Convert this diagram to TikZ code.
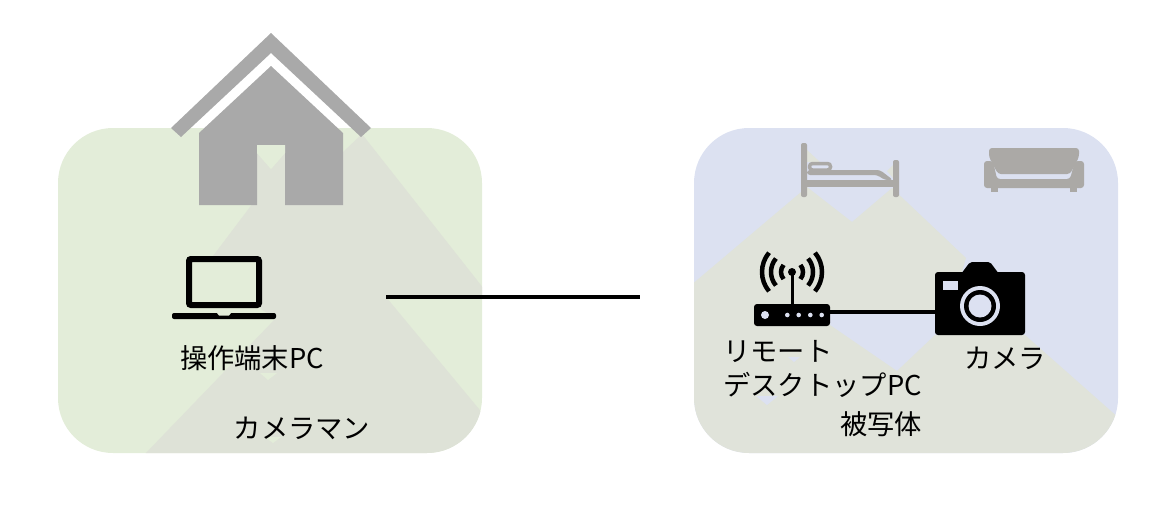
\documentclass[tikz,border=0pt]{standalone}
\usepackage{fontspec}
\newfontfamily\cjk{Noto Sans CJK JP}
\definecolor{greenpanel}{HTML}{E3EDD9}
\definecolor{bluepanel}{HTML}{DCE1F1}
\definecolor{greenhatch}{HTML}{DEE2D7}
\definecolor{bluehatch}{HTML}{E0E3DA}
\definecolor{housegray}{HTML}{A9A9A9}
\definecolor{roomgray}{HTML}{ABA9A6}
\tikzset{
  panel/.style={rounded corners=55pt},
  label/.style={font=\cjk\fontsize{27.3}{34}\selectfont,inner sep=0pt,text=black},
  wire/.style={draw=black,line width=4pt},
  wave/.style={draw=black,line width=4.5pt},
  blackbox/.style={fill=black,inner sep=0pt,rounded corners=3pt},
  dot/.style={fill=bluepanel}
}
\begin{document}
\begin{tikzpicture}[x=1pt,y=-1pt]
    \useasboundingbox (0,0) rectangle (1156,512);

% left room
    \fill[greenpanel,panel] (58,128) rectangle (482,453);
    \begin{scope}
        \clip[panel] (58,128) rectangle (482,453);
        \fill[greenhatch] (143,456) -- (276,318) -- (262,310) -- (213,256) -- (253,203) -- (257,153) -- (271,169) -- (285,153) -- (343,152) -- (362,134) -- (484,289) -- (484,297) -- (386,297) -- (484,415) -- (484,456) -- cycle;
    \end{scope}
    \fill[greenpanel] (260,373) -- (277,373) -- (268,380) -- cycle;
    \fill[greenpanel] (265,437) -- (281,437) -- (273,443) -- cycle;
    \fill[housegray] (171,128) -- (271,33) -- (371,128) -- (361,137) -- (271,53) -- (181,137) -- cycle;
    \fill[housegray] (199,133) -- (271,66) -- (343,133) -- (343,205) -- (285,205) -- (285,145) -- (257,145) -- (257,205) -- (199,205) -- cycle;
    \fill[greenpanel] (257,145) -- (285,145) -- (285,153) -- (271,169) -- (257,153) -- cycle;

    \draw[black,line width=6pt,fill=greenpanel,rounded corners=2pt] (189,259) rectangle (259,305);
    \fill[black,rounded corners=2pt] (172,313) -- (172,319) -- (276,319) -- (276,313) -- cycle;
    \fill[greenpanel] (217,313) -- (231,313) -- (229,315.5) -- (219,315.5) -- cycle;
    \node[label] (pclabel) at (252,358) {操作端末PC};
    \node[label] (operatorlabel) at (302,428) {カメラマン};

% connection between rooms
    \coordinate (netleft) at (386,297);
    \coordinate (netright) at (640,297);
    \draw[wire] (netleft) -- (netright);

% right room
    \fill[bluepanel,panel] (694,128) rectangle (1118,453);
    \begin{scope}
        \clip[panel] (694,128) rectangle (1118,453);
        \fill[bluehatch] (690,286) -- (807,187) -- (852,222) -- (892,188) -- (966,258) -- (950,312) -- (830,312) -- (830,325) -- (897,371) -- (935,335) -- (980,330) -- (1025,335) -- (1120,419) -- (1120,456) -- (690,456) -- cycle;
    \end{scope}
    \fill[bluepanel] (756,396) -- (778,396) -- (767,405) -- cycle;
    \fill[bluepanel] (788,357) -- (800,357) -- (794,362) -- cycle;
    \fill[bluehatch] (807,150) -- (820,162) -- (807,162) -- cycle;
    \fill[bluehatch] (887,171) -- (893,165) -- (893,178) -- cycle;

% bed
    \fill[roomgray,rounded corners=2pt] (801,143) rectangle (807,197);
    \fill[roomgray,rounded corners=2pt] (893,160) rectangle (899,197);
    \fill[roomgray] (807,180) rectangle (893,187);
    \fill[roomgray,rounded corners=3pt] (807,170) -- (880,170) -- (893,180) -- (885,180) -- (877,175) -- (807,175) -- cycle;
    \draw[roomgray,line width=3.5pt,rounded corners=3pt] (809.5,163.5) rectangle (830.5,170);

% sofa
    \fill[roomgray,rounded corners=3pt] (989,148) -- (1079,148) -- (1079,157) -- (1070,174) -- (998,174) -- (989,157) -- cycle;
    \fill[roomgray,rounded corners=3pt] (984,161) -- (993,161) -- (997,179) -- (1070,179) -- (1075,161) -- (1084,161) -- (1084,188) -- (984,188) -- cycle;
    \fill[roomgray] (991,187) rectangle (998,192);
    \fill[roomgray] (1070,187) rectangle (1077,192);

% router
    \node[blackbox,minimum width=76pt,minimum height=22pt] (routerbody) at (792,315) {};
    \coordinate (antenna) at (792,272);
    \draw[black,line width=3pt] (routerbody.north -| antenna) -- (antenna);
    \fill[black] (antenna) circle [radius=4pt];
    \draw[wave] ([shift={(140:11pt)}]antenna) arc [start angle=140,end angle=220,radius=11pt];
    \draw[wave] ([shift={(140:21pt)}]antenna) arc [start angle=140,end angle=220,radius=21pt];
    \draw[wave] ([shift={(140:30pt)}]antenna) arc [start angle=140,end angle=220,radius=30pt];
    \draw[wave] ([shift={(-40:11pt)}]antenna) arc [start angle=-40,end angle=40,radius=11pt];
    \draw[wave] ([shift={(-40:21pt)}]antenna) arc [start angle=-40,end angle=40,radius=21pt];
    \draw[wave] ([shift={(-40:30pt)}]antenna) arc [start angle=-40,end angle=40,radius=30pt];
    \fill[dot] (765,315) circle [radius=4pt];
    \fill[dot] (787.3,315) circle [radius=2.3pt];
    \fill[dot] (798.7,315) circle [radius=2.3pt];
    \fill[dot] (810.3,315) circle [radius=2.3pt];
    \fill[dot] (821.7,315) circle [radius=2.3pt];

% camera
    \node[blackbox,minimum width=90pt,minimum height=63pt] (camerabody) at (980,303.5) {};
    \fill[black,rounded corners=2pt] (961,274) -- (970,262) -- (990,262) -- (999,274) -- cycle;
    \fill[dot] (943,281) rectangle (958,290);
    \fill[dot] (980,306) circle [radius=20pt];
    \fill[black] (980,306) circle [radius=16pt];
    \fill[dot] (980,306) circle [radius=11.5pt];

    \draw[wire] ([yshift=3pt]routerbody.east) -- ([yshift=-8.5pt]camerabody.west);

    \node[label,anchor=north west,align=left] (routerlabel) at (723,340) {リモート\\デスクトップPC};
    \node[label] (cameralabel) at (1005,358) {カメラ};
    \node[label] (subjectlabel) at (881,424) {被写体};
\end{tikzpicture}
\end{document}
